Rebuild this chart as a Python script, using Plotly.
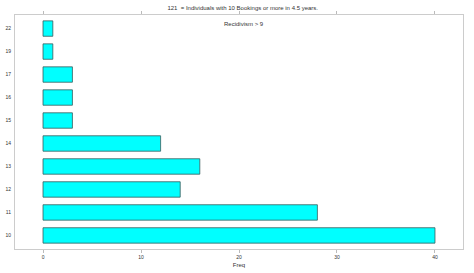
import plotly.graph_objects as go

bookings = ["10", "11", "12", "13", "14", "15", "16", "17", "19", "22"]
freq = [40, 28, 14, 16, 12, 3, 3, 3, 1, 1]
x_ticks = [0, 10, 20, 30, 40]

fig = go.Figure(go.Bar(
    x=freq, y=bookings, orientation="h",
    marker=dict(color="#00FFFF", line=dict(color="#3a5a5a", width=0.8)),
    width=0.67,
))
fig.update_layout(
    width=474, height=273,
    margin=dict(l=15, r=11, t=15, b=24, autoexpand=False),
    paper_bgcolor="white", plot_bgcolor="white",
    font=dict(family="Liberation Sans, Arial", size=5, color="#333"),
    title=dict(text="121  = Individuals with 10 Bookings or more in 4.5 years.",
               x=0.512, xanchor="center", y=1 - 8 / 273, yanchor="middle",
               font=dict(size=6, color="#333")),
    showlegend=False,
    annotations=[dict(text="Recidivism > 9", x=0.512, xref="paper", y=0.985, yref="paper",
                      yanchor="top", showarrow=False, font=dict(size=6, color="#333"))],
)
fig.update_xaxes(
    range=[-2.86, 42.86], tickvals=x_ticks, showgrid=False, zeroline=False,
    showline=True, linecolor="#cccccc", linewidth=1, mirror="allticks",
    ticks="outside", ticklen=3, tickcolor="#bbbbbb", automargin=False,
    title=dict(text="Freq", font=dict(size=6, color="#333"), standoff=3),
)
fig.update_yaxes(
    type="category", categoryorder="array", categoryarray=bookings,
    showgrid=False, zeroline=False, showline=True, linecolor="#cccccc",
    linewidth=1, mirror=True, ticks="", range=[-0.59, 9.59], automargin=False,
    ticklabelstandoff=2,
)
fig.write_html("out.html")
